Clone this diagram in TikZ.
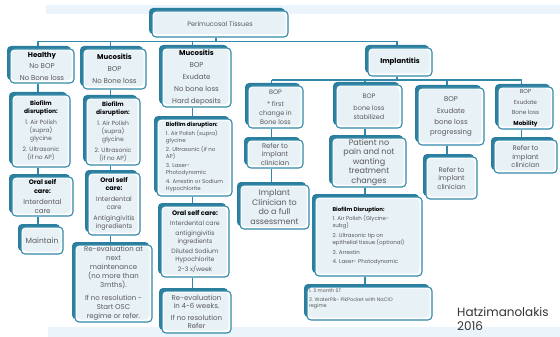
\documentclass[tikz,border=0pt]{standalone}
\usepackage{fontspec}
\setmainfont{Poppins}
\usetikzlibrary{backgrounds}
\definecolor{tealA}{HTML}{3288A8}
\definecolor{tealB}{HTML}{2C7E9E}
\definecolor{boxfill}{HTML}{E8F1F6}
\definecolor{band}{HTML}{EAF4FA}
\definecolor{txt}{HTML}{5A5A5A}
\newcommand\fsz[2]{\fontsize{#1}{#2}\selectfont}
\newcommand\ttl[1]{\textcolor{black}{\bfseries #1}}
\begin{document}
\begin{tikzpicture}[x=1pt,y=-1pt,
  box/.style={draw=tealA, line width=1.1pt, rounded corners=4pt, fill=white,
    preaction={fill=tealB, transform canvas={shift={(-3pt,3pt)}}},
    path picture={\fill[boxfill] ([shift={(1.5pt,-1.5pt)}]path picture bounding box.north west) rectangle ([shift={(-2.5pt,2.5pt)}]path picture bounding box.south east);},
    align=center, inner sep=1pt, text=txt},
  link/.style={draw=tealA, line width=1.1pt}]
\useasboundingbox (0,0) rectangle (560,337);

% level 0 / 1
\node[box, minimum width=136, minimum height=26, font=\fsz{6.5}{8}] (top) at (220,24) {Perimucosal Tissues};
\node[box, minimum width=64, minimum height=34, font=\fsz{7}{11.5}] (healthy) at (42,66) {\ttl{Healthy}\\No BOP\\No Bone loss};
\node[box, minimum width=63, minimum height=40, font=\fsz{7}{12}] (muc1) at (114.5,69) {\ttl{Mucositis}\\BOP\\No Bone loss};
\node[box, minimum width=69, minimum height=59, font=\fsz{7}{12}] (muc2) at (196.5,77.5) {\ttl{Mucositis}\\BOP\\Exudate\\No bone loss\\Hard deposits};
\node[box, minimum width=64, minimum height=28, font=\fsz{7}{9}] (impl) at (400,62) {\ttl{Implantitis}};

% healthy column
\node[box, minimum width=58, minimum height=72, font=\fsz{6}{8}] (bio1) at (41,131) {\ttl{Biofilm}\\\ttl{disruption:}\\[3pt]1. Air Polish\\(supra)\\glycine\\[3pt]2. Ultrasonic\\(if no AP)};
\node[box, minimum width=61, minimum height=39, font=\fsz{6.5}{8.5}] (osc1) at (42.5,196.5) {\ttl{Oral self}\\\ttl{care:}\\[3pt]\fsz{7}{9}Interdental\\\fsz{7}{9}care};
\node[box, minimum width=42, minimum height=27, font=\fsz{7.5}{9}] (maint) at (42,240.5) {Maintain};

% mucositis column
\node[box, minimum width=54, minimum height=67, font=\fsz{6}{8}] (bio2) at (113,131.5) {\ttl{Biofilm}\\\ttl{disruption:}\\[3pt]1. Air Polish\\(supra)\\glycine\\[3pt]2. Ultrasonic\\(if no AP)};
\node[box, minimum width=52, minimum height=62, font=\fsz{6.5}{8}] (osc2) at (114,204) {\ttl{Oral self}\\\ttl{care:}\\[3pt]Interdental\\care\\[3pt]Antigingivitis\\ingredients};
\node[box, minimum width=77, minimum height=77, font=\fsz{7}{9}] (reev2) at (113.5,283.5) {Re-evaluation at\\next\\maintenance\\(no more than\\3mths).\\[4pt]If no resolution -\\Start OSC\\regime or refer.};

% mucositis 2 column
\node[box, minimum width=75, minimum height=77, font=\fsz{5.5}{7}, align=left] (bio3) at (194.5,157.5) {\ttl{Biofilm disruption:}\\[2pt]1. Air Polish (supra)\\glycine\\[2pt]2. Ultrasonic (if no\\AP)\\[2pt]3. Laser-\\Photodynamic\\[2pt]4. Arrestin or Sodium\\Hypochlorite};
\node[box, minimum width=68, minimum height=71, font=\fsz{6.2}{8}] (osc3) at (195,241.5) {\fsz{6.5}{8}\ttl{Oral self care:}\\[2pt]Interdental care\\[2pt]antigingivitis\\ingredients\\[2pt]Diluted Sodium\\Hypochlorite\\[2pt]2-3 x/week};
\node[box, minimum width=69, minimum height=42, font=\fsz{7}{8}] (reev3) at (196.5,312) {Re-evaluation\\in 4-6 weeks.\\[4pt]If no resolution\\Refer};

% implantitis subtree
\node[box, minimum width=55, minimum height=42, font=\fsz{6.5}{9}] (first) at (275.5,107) {BOP\\[3pt]* first\\change in\\Bone loss};
\node[box, minimum width=66, minimum height=43, font=\fsz{6.5}{8.5}] (stab) at (369,106.5) {BOP\\[4pt]bone loss\\stabilized};
\node[box, minimum width=66, minimum height=57, font=\fsz{7}{9.5}] (prog) at (451,116.5) {BOP\\[2pt]Exudate\\[2pt]bone loss\\progressing};
\node[box, minimum width=55, minimum height=42, font=\fsz{5.8}{10.5}] (mob) at (525.5,108) {BOP\\Exudate\\Bone loss\\\ttl{Mobility}};

\node[box, minimum width=56, minimum height=28, font=\fsz{6.8}{8.5}] (ref1) at (275,154) {Refer to\\implant\\clinician};
\node[box, minimum width=69, minimum height=44, font=\fsz{8}{9.8}] (assess) at (274.5,207) {Implant\\Clinician to\\do a full\\assessment};
\node[box, minimum width=74, minimum height=49, inner sep=0pt, font=\fsz{8}{9.5}] (patient) at (369,162.5) {Patient no\\pain and not\\wanting\\treatment\\changes};
\node[box, minimum width=51, minimum height=42, font=\fsz{6.8}{8.5}] (ref3) at (451.5,178) {Refer to\\implant\\clinician};
\node[box, minimum width=63, minimum height=33, font=\fsz{6.8}{8.5}] (ref4) at (525.5,156.5) {Refer to\\implant\\clinician};
\node[box, minimum width=107, minimum height=79, font=\fsz{5.5}{7.5}, align=left] (biod) at (368.5,236.5) {\ttl{Biofilm Disruption:}\\[1pt]1. Air Polish (Glycine-\\subg)\\[2pt]2. Ultrasonic tip on\\epithelial tissue (optional)\\[2pt]3. Arrestin\\[2pt]4. Laser- Photodynamic};
\node[box, minimum width=125, minimum height=33, font=\fsz{5}{6}] (st) at (369.5,303.5) {\parbox[c][30pt][t]{121pt}{\raggedright 1. 3 month ST\\[3pt]2. WaterPik- PikPocket with NaClO\\regime}};

\node[anchor=north west, inner sep=0pt, align=left, text=black!80, font=\fsz{12}{14.5}] (auth) at (457,307) {Hatzimanolakis\\2016};

\begin{scope}[on background layer]
  \fill[band] (46,5) rectangle (560,14.5);
  \fill[band] (48,327) rectangle (560,337);
  \coordinate (bus) at (0,41.5);
  \coordinate (ib) at (0,80);
  \draw[link] ([xshift=-4pt]healthy.north |- bus) -- ([xshift=-3pt]impl.north |- bus);
  \draw[link] ([xshift=-4pt]top.south) -- ([xshift=-4pt]top.south |- bus);
  \draw[link] ([xshift=-4pt]healthy.north |- bus) -- ([xshift=-4pt]healthy.north);
  \draw[link] ([xshift=-4pt]muc1.north |- bus) -- ([xshift=-4pt]muc1.north);
  \draw[link] ([xshift=-4pt]muc2.north |- bus) -- ([xshift=-4pt]muc2.north);
  \draw[link] ([xshift=-3pt]impl.north |- bus) -- ([xshift=-3pt]impl.north);
  % healthy column
  \draw[link] ([xshift=-4pt]healthy.south) -- ([xshift=-4pt]healthy.south |- bio1.north);
  \draw[link] ([xshift=-4pt]healthy.south |- bio1.south) -- ([xshift=-4pt]healthy.south |- osc1.north);
  \draw[link] ([xshift=-4pt]healthy.south |- osc1.south) -- ([xshift=-4pt]healthy.south |- maint.north);
  % mucositis column
  \draw[link] ([xshift=-4pt]muc1.south) -- ([xshift=-4pt]muc1.south |- bio2.north);
  \draw[link] ([xshift=-4pt]muc1.south |- bio2.south) -- ([xshift=-4pt]muc1.south |- osc2.north);
  \draw[link] ([xshift=-4pt]muc1.south |- osc2.south) -- ([xshift=-4pt]muc1.south |- reev2.north);
  % mucositis 2 column
  \draw[link] ([xshift=-4pt]muc2.south) -- ([xshift=-4pt]muc2.south |- bio3.north);
  \draw[link] ([xshift=-4pt]muc2.south |- bio3.south) -- ([xshift=-4pt]muc2.south |- osc3.north);
  \draw[link] ([xshift=-4pt]muc2.south |- osc3.south) -- ([xshift=-4pt]muc2.south |- reev3.north);
  % implantitis
  \draw[link] ([xshift=-3pt]impl.south) -- ([xshift=-3pt]impl.south |- ib);
  \draw[link] ([xshift=-4pt]first.north |- ib) -- ([xshift=-4pt]mob.north |- ib);
  \draw[link] ([xshift=-4pt]first.north |- ib) -- ([xshift=-4pt]first.north);
  \draw[link] ([xshift=-4pt]stab.north |- ib) -- ([xshift=-4pt]stab.north);
  \draw[link] ([xshift=-4pt]prog.north |- ib) -- ([xshift=-4pt]prog.north);
  \draw[link] ([xshift=-4pt]mob.north |- ib) -- ([xshift=-4pt]mob.north);
  \draw[link] ([xshift=-4pt]first.south) -- ([xshift=-4pt]first.south |- ref1.north);
  \draw[link] ([xshift=-4pt]first.south |- ref1.south) -- ([xshift=-4pt]first.south |- assess.north);
  \draw[link] ([xshift=-4pt]stab.south) -- ([xshift=-4pt]stab.south |- patient.north);
  \draw[link] ([xshift=-4pt]stab.south |- patient.south) -- ([xshift=-4pt]stab.south |- biod.north);
  \draw[link] ([xshift=-4pt]stab.south |- biod.south) -- ([xshift=-4pt]stab.south |- st.north);
  \draw[link] ([xshift=-4pt]prog.south) -- ([xshift=-4pt]prog.south |- ref3.north);
  \draw[link] ([xshift=-4pt]mob.south) -- ([xshift=-4pt]mob.south |- ref4.north);
\end{scope}
\end{tikzpicture}
\end{document}
